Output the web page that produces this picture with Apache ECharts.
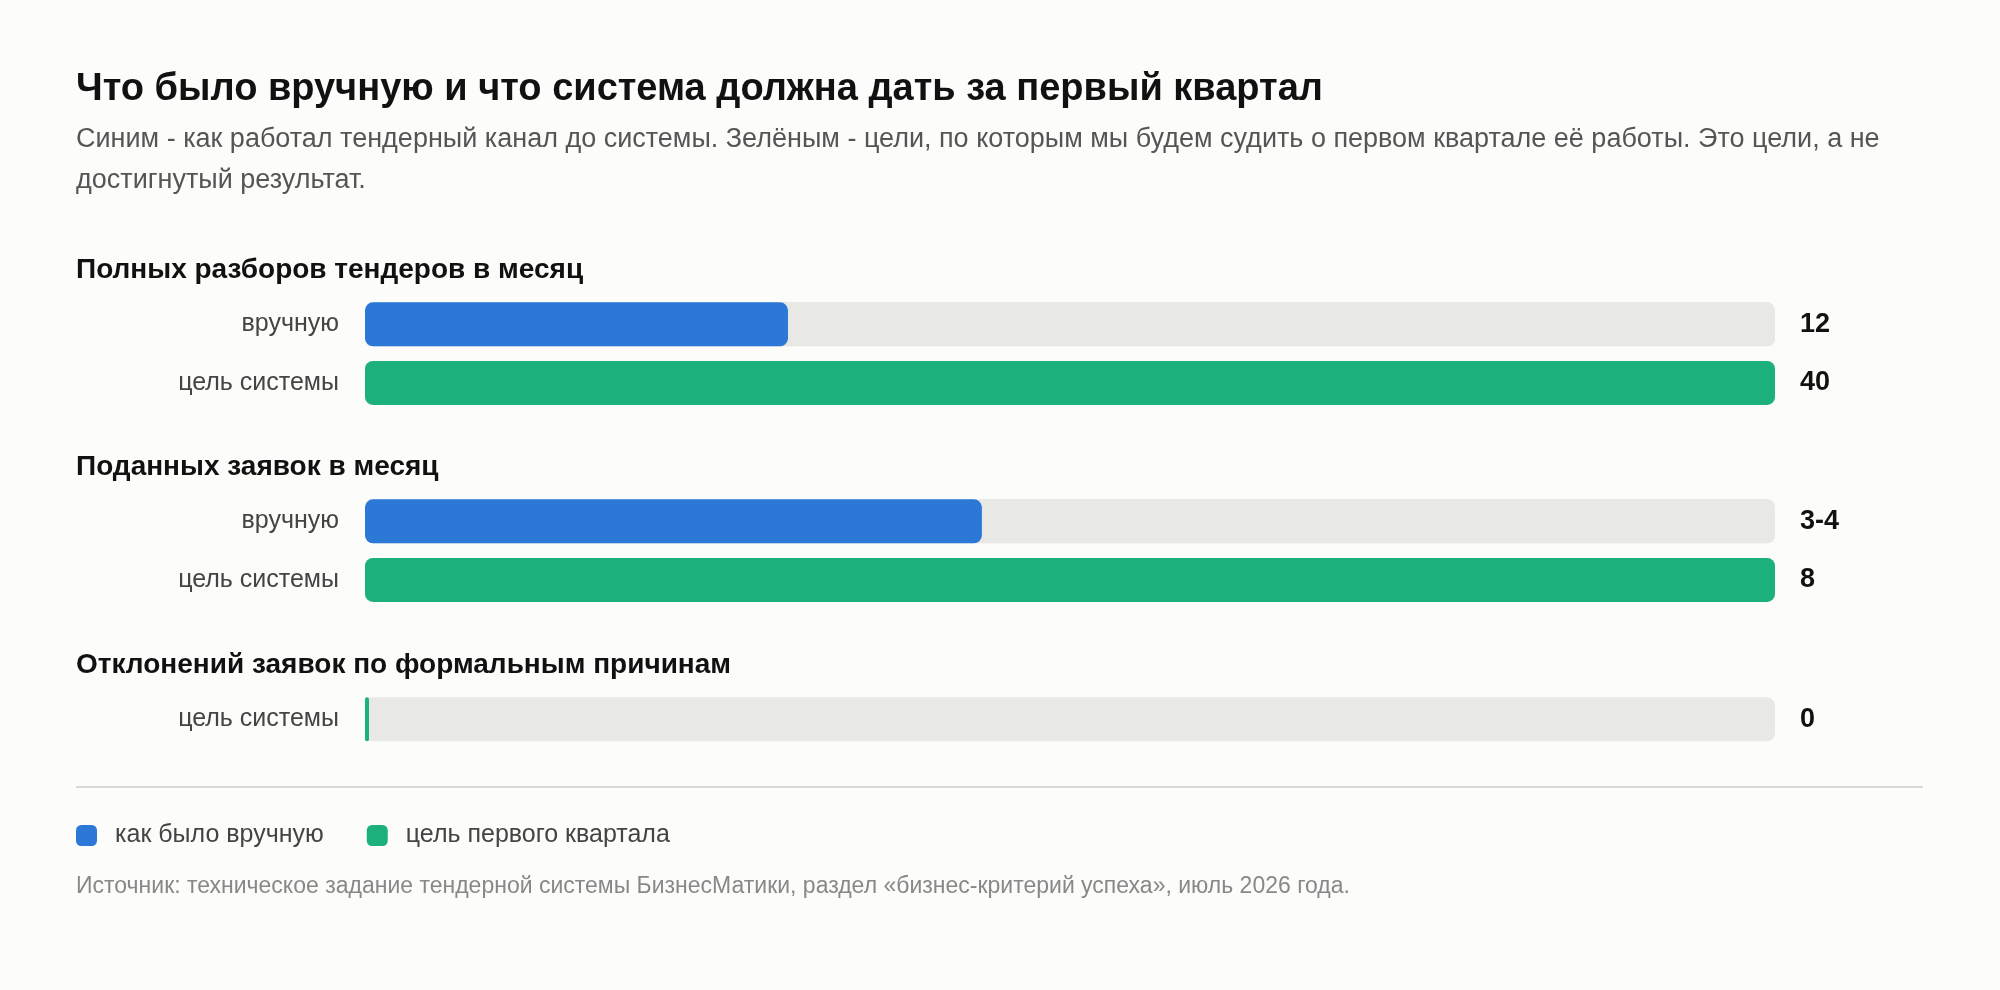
<!DOCTYPE html>
<html>
<head>
<meta charset="utf-8">
<script src="https://cdn.jsdelivr.net/npm/echarts@6/dist/echarts.min.js"></script>
<style>
  html, body { margin: 0; padding: 0; background: #fcfcfa; }
  #chart { width: 2000px; height: 990px; }
</style>
</head>
<body>
<div id="chart"></div>
<script>
// данные
var sectionTitles = [
  'Полных разборов тендеров в месяц',
  'Поданных заявок в месяц',
  'Отклонений заявок по формальным причинам'
];
var manualValues = [12, 3.5, null];
var manualLabels = ['12', '3-4', null];
var goalValues = [40, 8, 0];
var goalLabels = ['40', '8', '0'];
var scaleMax = [40, 8, 1];
var rowManual = 'вручную';
var rowGoal = 'цель системы';
var seriesManual = 'как было вручную';
var seriesGoal = 'цель первого квартала';
var subtitleLines = [
  'Синим - как работал тендерный канал до системы. Зелёным - цели, по которым мы будем судить о первом квартале её работы. Это цели, а не',
  'достигнутый результат.'
];

var FONT = '"Liberation Sans", Arial, sans-serif';
var BLUE = '#2b78d6';
var GREEN = '#1cb17b';
var TRACK = '#e8e8e4';

// раскладка
var gridTops = [295, 492, 690];
var headTops = [256, 453, 651];
var rowPitch = 58.6;

var grids = [], xAxes = [], yAxes = [], series = [], titles = [];

titles.push({
  text: 'Что было вручную и что система должна дать за первый квартал',
  left: 76, top: 71, padding: 0,
  textStyle: { fontFamily: FONT, fontSize: 38, fontWeight: 'bold', color: '#111' }
});
titles.push({
  text: subtitleLines.join('\n'),
  left: 76, top: 119, padding: 0,
  textStyle: { fontFamily: FONT, fontSize: 27, fontWeight: 'normal', color: '#555', lineHeight: 41 }
});

sectionTitles.forEach(function (name, i) {
  titles.push({
    text: name, left: 76, top: headTops[i], padding: 0,
    textStyle: { fontFamily: FONT, fontSize: 28, fontWeight: 'bold', color: '#111' }
  });

  var cats = [], vals = [];
  if (manualValues[i] != null) { cats.push(rowManual); vals.push(manualLabels[i]); }
  cats.push(rowGoal); vals.push(goalLabels[i]);

  grids.push({ left: 365, right: 225, top: gridTops[i], height: rowPitch * cats.length });
  xAxes.push({ type: 'value', gridIndex: i, min: 0, max: scaleMax[i], show: false });
  yAxes.push({
    type: 'category', gridIndex: i, data: cats, inverse: true, position: 'left',
    axisLine: { show: false }, axisTick: { show: false },
    axisLabel: { margin: 26, fontFamily: FONT, fontSize: 25, color: '#444', padding: [5, 0, 0, 0] }
  });
  var leftIdx = yAxes.length - 1;
  yAxes.push({
    type: 'category', gridIndex: i, data: vals, inverse: true, position: 'right',
    axisLine: { show: false }, axisTick: { show: false },
    axisLabel: { margin: 25, fontFamily: FONT, fontSize: 27, fontWeight: 'bold', color: '#111', padding: [5, 0, 0, 0] }
  });

  var common = {
    type: 'bar', xAxisIndex: i, yAxisIndex: leftIdx, stack: 's' + i,
    barWidth: 44, barMinHeight: 4,
    showBackground: true,
    backgroundStyle: { color: TRACK, borderRadius: 8 },
    silent: true, animation: false
  };
  if (manualValues[i] != null) {
    series.push(Object.assign({}, common, {
      name: seriesManual,
      itemStyle: { color: BLUE, borderRadius: 8 },
      data: [manualValues[i], '-']
    }));
    series.push(Object.assign({}, common, {
      name: seriesGoal,
      itemStyle: { color: GREEN, borderRadius: 8 },
      data: ['-', goalValues[i]]
    }));
  } else {
    series.push(Object.assign({}, common, {
      name: seriesGoal,
      itemStyle: { color: GREEN, borderRadius: 8 },
      data: [goalValues[i]]
    }));
  }
});

titles.push({
  text: 'Источник: техническое задание тендерной системы БизнесМатики, раздел «бизнес-критерий успеха», июль 2026 года.',
  left: 76, top: 875, padding: 0,
  textStyle: { fontFamily: FONT, fontSize: 23, fontWeight: 'normal', color: '#888' }
});

var myChart = echarts.init(document.getElementById('chart'));
myChart.setOption({
  backgroundColor: '#fcfcfa',
  animation: false,
  textStyle: { fontFamily: FONT },
  title: titles,
  legend: {
    data: [seriesManual, seriesGoal],
    left: 76, top: 823, padding: 0,
    icon: 'roundRect', itemWidth: 21, itemHeight: 21, itemGap: 43,
    selectedMode: false,
    textStyle: { fontFamily: FONT, fontSize: 25, color: '#444', padding: [0, 0, 0, 13] }
  },
  grid: grids,
  xAxis: xAxes,
  yAxis: yAxes,
  series: series,
  graphic: [{
    type: 'line',
    shape: { x1: 76, y1: 787, x2: 1923, y2: 787 },
    style: { stroke: '#d8d8d4', lineWidth: 2 }
  }]
});
</script>
</body>
</html>
